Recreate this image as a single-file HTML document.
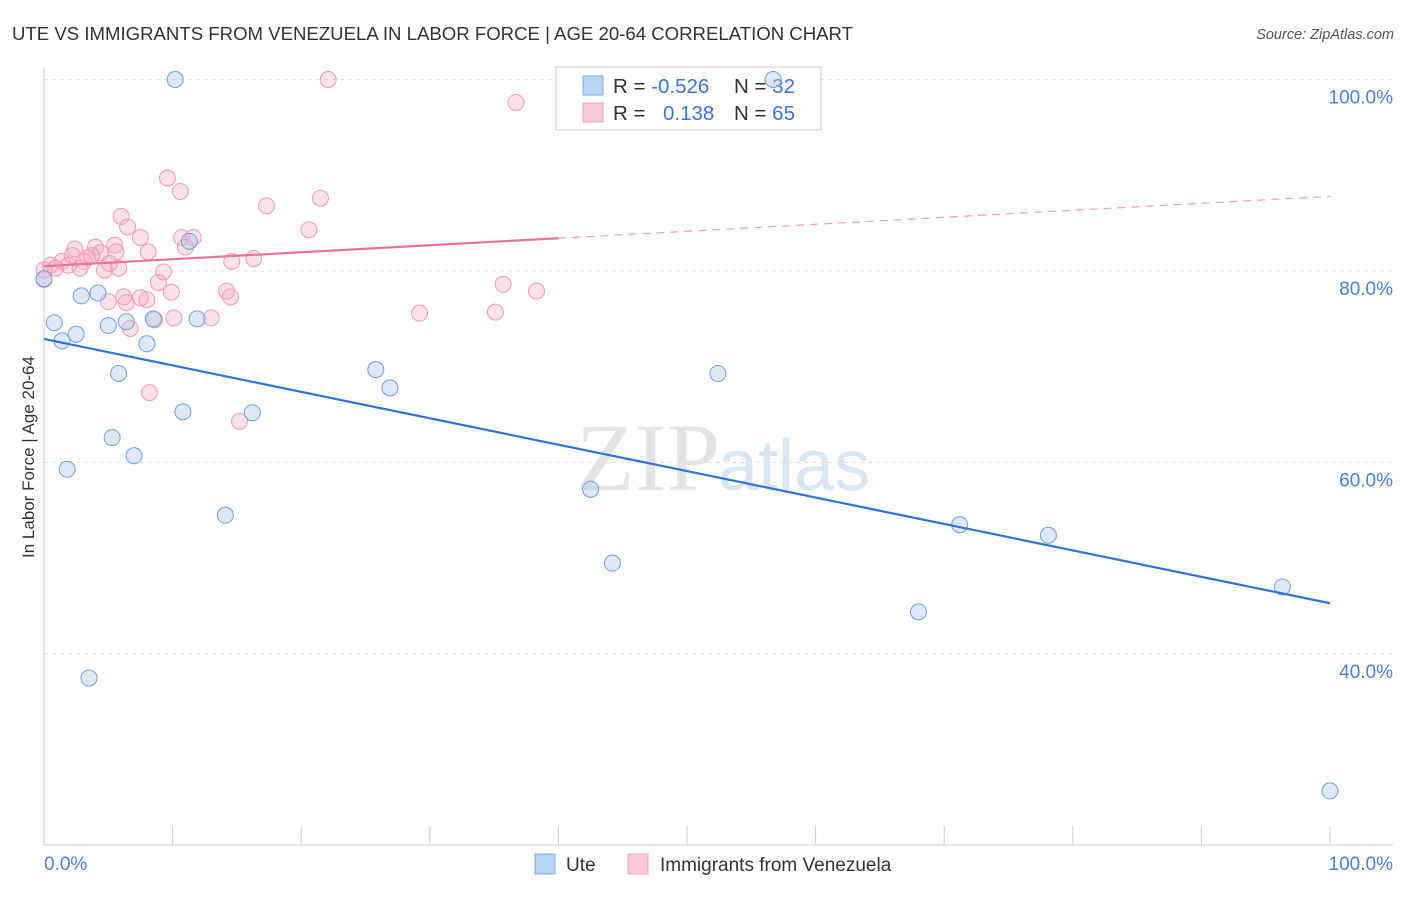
<!DOCTYPE html>
<html><head><meta charset="utf-8"><style>
body{margin:0;background:#fff;font-family:"Liberation Sans",sans-serif;}
</style></head><body>
<svg width="1406" height="892" xmlns="http://www.w3.org/2000/svg">
<text x="12" y="40" font-size="18.6" fill="#333">UTE VS IMMIGRANTS FROM VENEZUELA IN LABOR FORCE | AGE 20-64 CORRELATION CHART</text>
<text x="1394" y="39" font-size="14.5" fill="#555" font-style="italic" text-anchor="end">Source: ZipAtlas.com</text>
<text x="720" y="490" font-size="96" fill="#e4e4e4" text-anchor="end" font-family="Liberation Serif">ZIP</text>
<text x="718" y="490" font-size="72" fill="#d8e6f5">atlas</text>
<g id="grid"></g>
<g id="axes"></g>
<g>
<rect x="556" y="67" width="265" height="63" fill="#fff" stroke="#ccc"/>
<rect x="583" y="76" width="20" height="19" fill="#b8d4f5" stroke="#7aaae0"/>
<text x="613" y="93" font-size="20.5" fill="#333">R = <tspan fill="#3b74d1">-0.526</tspan></text>
<text x="734" y="93" font-size="20.5" fill="#333">N = <tspan fill="#3b74d1">32</tspan></text>
<rect x="583" y="103" width="20" height="19" fill="#f9c9d8" stroke="#eea0b8"/>
<text x="613" y="120" font-size="20.5" fill="#333">R = </text>
<text x="663" y="120" font-size="20.5" fill="#3b74d1">0.138</text>
<text x="734" y="120" font-size="20.5" fill="#333">N = <tspan fill="#3b74d1">65</tspan></text>
</g>
<g id="marks"></g>
<text transform="translate(34,457) rotate(-90)" font-size="17" fill="#333" text-anchor="middle">In Labor Force | Age 20-64</text>
<g>
<rect x="535" y="854" width="20" height="20" fill="#b8d4f5" stroke="#7aaae0"/>
<text x="566" y="871" font-size="19" fill="#333">Ute</text>
<rect x="628" y="854" width="20" height="20" fill="#f9c9d8" stroke="#eea0b8"/>
<text x="660" y="871" font-size="19" fill="#333">Immigrants from Venezuela</text>
</g>
</svg>
<script>
const yTicks=[40,60,80,100];
const yTickLabels=["40.0%","60.0%","80.0%","100.0%"];
const xTickLabels=["0.0%","100.0%"];
const uteX=[10.2,0.8,1.4,2.5,2.9,4.2,5.0,6.4,8.0,8.5,5.8,10.8,5.3,7.0,1.8,11.3,11.9,16.2,14.1,3.5,25.8,26.9,42.5,44.2,52.4,56.7,68.0,71.2,78.1,96.3,100,0];
const uteY=[100,74.6,72.7,73.4,77.4,77.7,74.3,74.7,72.4,75.0,69.3,65.3,62.6,60.7,59.3,83.1,75.0,65.2,54.5,37.5,69.7,67.8,57.2,49.5,69.3,100,44.4,53.5,52.4,47.0,25.7,79.2];
const venX=[22.1,36.7,9.6,10.6,21.5,17.3,6.0,6.5,20.6,10.7,11.6,7.5,11.0,5.5,2.4,4.0,8.1,5.6,4.4,16.3,14.6,2.2,3.4,1.4,0.5,0.9,2.8,4.7,5.8,9.3,0,5.1,8.9,35.7,38.3,14.2,14.5,9.9,6.2,7.5,8.0,5.0,6.4,29.2,35.1,8.6,10.1,13.0,6.7,8.2,15.2,0,3.1,1.9,3.7];
const venY=[100,97.6,89.7,88.3,87.6,86.8,85.7,84.6,84.3,83.5,83.5,83.5,82.5,82.7,82.3,82.5,82.0,82.0,81.9,81.3,81.0,81.6,81.4,81.0,80.6,80.3,80.3,80.1,80.3,79.9,80.1,80.8,78.8,78.6,77.9,77.9,77.3,77.8,77.3,77.2,77.0,76.8,76.7,75.6,75.7,74.9,75.1,75.1,74.0,67.3,64.3,79.1,81.0,80.6,81.6];
const uteTrend=[72.9,45.3];
const venTrend=[80.5,87.8];
const venSolidEnd=40;
const NS="http://www.w3.org/2000/svg";
const X=v=>44+v*12.86, Y=v=>79.5+(100-v)*9.575;
function mk(t,a,p){const e=document.createElementNS(NS,t);for(const k in a)e.setAttribute(k,a[k]);p.appendChild(e);return e;}
const grid=document.getElementById('grid'),axes=document.getElementById('axes'),marks=document.getElementById('marks');
yTicks.forEach((t,i)=>{
 const l=mk('line',{x1:44,x2:1393,y1:Y(t),y2:Y(t),stroke:'#e2e2e2','stroke-dasharray':'4,4'},grid);
 
 
 const tx=mk('text',{x:1393,y:Y(t)+24,'font-size':19,fill:'#4a80d6','text-anchor':'end'},axes);tx.textContent=yTickLabels[i];
 
 
});
mk('line',{x1:44,x2:44,y1:68,y2:845,stroke:'#ccc'},axes);
mk('line',{x1:44,x2:1393,y1:845,y2:845,stroke:'#ccc'},axes);
for(let i=0;i<=10;i++){mk('line',{x1:X(i*10),x2:X(i*10),y1:826,y2:845,stroke:'#ccc'},axes);}
[[0,44,'start'],[1,1393,'end']].forEach(([i,x,a])=>{const t=mk('text',{x:x,y:870,'font-size':19,fill:'#4a80d6','text-anchor':a},axes);t.textContent=xTickLabels[i];
 
 });
venX.forEach((v,i)=>{const c=mk('circle',{cx:X(v),cy:Y(venY[i]),r:8,fill:'rgba(246,170,195,0.35)',stroke:'#ef9ab6','stroke-width':1},marks);
 
 });
uteX.forEach((v,i)=>{const c=mk('circle',{cx:X(v),cy:Y(uteY[i]),r:8,fill:'rgba(170,200,240,0.4)',stroke:'#6f9fdc','stroke-width':1},marks);
 
 });
const vm=venTrend[0]+(venTrend[1]-venTrend[0])*venSolidEnd/100;
let l=mk('line',{x1:X(0),y1:Y(venTrend[0]),x2:X(venSolidEnd),y2:Y(vm),stroke:'#e8729a','stroke-width':2.2},marks);


l=mk('line',{x1:X(venSolidEnd),y1:Y(vm),x2:X(100),y2:Y(venTrend[1]),stroke:'#eea0b8','stroke-width':1.2,'stroke-dasharray':'8,6'},marks);


l=mk('line',{x1:X(0),y1:Y(uteTrend[0]),x2:X(100),y2:Y(uteTrend[1]),stroke:'#2f74d6','stroke-width':2.2},marks);


</script>
</body></html>
